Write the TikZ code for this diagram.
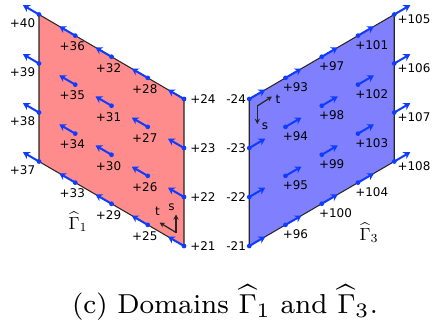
\documentclass[tikz,border=0pt]{standalone}
\usepackage{fontspec}
\newfontfamily\dejavu{DejaVu Sans}
\usetikzlibrary{arrows.meta,calc}
\definecolor{vecblue}{RGB}{15,60,255}

\begin{document}
\begin{tikzpicture}[>=Stealth,
 vec/.style={vecblue,line width=1.15pt,-{Stealth[length=3.8pt,width=4.4pt]}},
 dot/.style={circle,fill=vecblue,inner sep=0pt,minimum size=2.7pt},
 num/.style={font=\dejavu\fontsize{6.8}{8}\selectfont,inner sep=0pt},
 axis/.style={black!85,line width=0.7pt,-{Stealth[length=3pt,width=3pt]}},
 dom/.style={draw=black!85,line width=0.6pt}]
\useasboundingbox (0,0) rectangle (8.66,6.52);
% domain Gamma_1
\draw[dom,fill=red!45] (3.68,1.6) -- (3.68,4.54) -- (0.78,6.23) -- (0.78,3.29) -- cycle;
\foreach \i in {0,...,4} \foreach \j in {0,...,3} {
 \pgfmathtruncatemacro\n{21+4*\i+\j}
 \path ({3.68-0.725*\i},{1.6+0.98*\j+0.4225*\i}) coordinate (r\n) ++(-0.32,0.186) coordinate (rh\n);
}
\foreach \n in {21,...,24} \node[num,anchor=west] (rl\n) at ([xshift=0.12cm]r\n) {+\n};
\foreach \n in {25,...,36} \node[num] (rl\n) at ($(r\n)+(-0.06,-0.22)$) {+\n};
\foreach \n in {37,...,40} \node[num,anchor=east] (rl\n) at ($(r\n)+(-0.07,-0.17)$) {+\n};
\foreach \n in {21,...,40} {\draw[vec] (r\n) -- (rh\n); \node[dot] (rd\n) at (r\n) {};}
% local axes s,t
\coordinate (ro) at (3.52,1.87);
\coordinate (rs) at (3.52,2.23);
\coordinate (rt) at (3.19,2.07);
\draw[axis] (ro) -- (rs); \draw[axis] (ro) -- (rt);
\node[num] (rsl) at (3.43,2.38) {s};
\node[num] (rtl) at (3.15,2.29) {t};
\node[font=\fontsize{10}{12}\selectfont] (g1) at (1.56,2.08) {$\widehat{\Gamma}_1$};
% domain Gamma_3
\draw[dom,fill=blue!50] (4.985,1.6) -- (4.985,4.54) -- (7.885,6.23) -- (7.885,3.29) -- cycle;
\foreach \k in {0,...,4} \foreach \r in {0,...,3} {
 \path ({4.985+0.725*\k},{4.54-0.98*\r+0.4225*\k}) coordinate (b\k\r) ++(0.32,0.186) coordinate (bh\k\r);
}
\foreach \r in {0,...,3} {\pgfmathtruncatemacro\m{24-\r} \node[num,anchor=east] (bl0\r) at ([xshift=-0.06cm]b0\r) {-\m};}
\foreach \k in {1,2,3} \foreach \r in {0,...,3} {\pgfmathtruncatemacro\n{89+4*\k+\r} \node[num,anchor=west] (bl\k\r) at ($(b\k\r)+(-0.06,-0.19)$) {+\n};}
\foreach \r in {0,...,3} {\pgfmathtruncatemacro\n{105+\r} \node[num,anchor=west] (bl4\r) at ($(b4\r)+(0.06,-0.09)$) {+\n};}
\foreach \k in {0,...,4} \foreach \r in {0,...,3} {\draw[vec] (b\k\r) -- (bh\k\r); \node[dot] (bd\k\r) at (b\k\r) {};}
\coordinate (bo) at (5.146,4.4);
\coordinate (bs) at (5.146,4.04);
\coordinate (bt) at (5.44,4.59);
\draw[axis] (bo) -- (bs); \draw[axis] (bo) -- (bt);
\node[num] (btl) at (5.56,4.53) {t};
\node[num] (bsl) at (5.3,3.99) {s};
\node[font=\fontsize{10}{12}\selectfont] (g3) at (7.38,1.86) {$\widehat{\Gamma}_3$};
% caption
\node[font=\fontsize{8}{9.6}\selectfont,scale=1.95,transform shape,anchor=base] (cap) at (4.5,0.25) {(c) Domains $\widehat{\Gamma}_1$ and $\widehat{\Gamma}_3$.};
\end{tikzpicture}
\end{document}
